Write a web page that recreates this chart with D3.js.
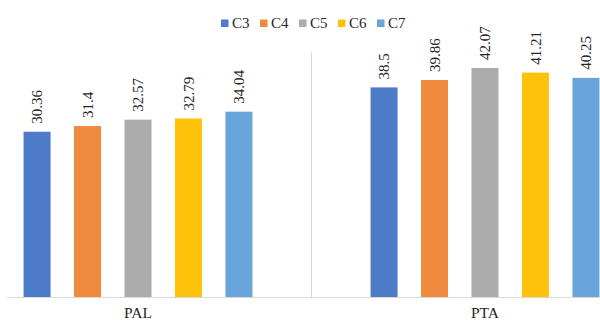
<!DOCTYPE html>
<html>
<head>
<meta charset="utf-8">
<script src="https://cdn.jsdelivr.net/npm/d3@7"></script>
<style>
  html, body { margin: 0; padding: 0; background: #fff; }
  svg { display: block; }
</style>
</head>
<body>
<svg id="chart" width="600" height="322"></svg>
<script>
// Groups along the x axis and the five series within each group
const categories = ["PAL", "PTA"];
const seriesNames = ["C3", "C4", "C5", "C6", "C7"];
const seriesColors = ["#4e7bc8", "#ef8a3e", "#acacac", "#ffc20a", "#68a4da"];
const palValues = [30.36, 31.4, 32.57, 32.79, 34.04];
const ptaValues = [38.5, 39.86, 42.07, 41.21, 40.25];

const valuesByCategory = { PAL: palValues, PTA: ptaValues };
const rows = [];
categories.forEach(c => {
  valuesByCategory[c].forEach((v, i) => rows.push({ category: c, series: seriesNames[i], value: v }));
});

const FONT = "'Liberation Serif', 'Times New Roman', Times, serif";
const svg = d3.select("#chart")
  .attr("font-family", FONT)
  .style("font-family", FONT);
const baseY = 297, topY = 52;

const x0 = d3.scaleBand().domain(categories).range([-35.5, 658.5]).paddingInner(0).paddingOuter(0);
const x1 = d3.scaleBand().domain(seriesNames).range([0, x0.bandwidth()])
  .paddingInner(0.465).paddingOuter(1.17);
const y = d3.scaleLinear().domain([0, 45]).range([baseY, topY]);
const color = d3.scaleOrdinal().domain(seriesNames).range(seriesColors);

// Category separator and baseline
svg.append("line")
  .attr("x1", x0("PTA")).attr("x2", x0("PTA"))
  .attr("y1", y(45)).attr("y2", y(0))
  .attr("stroke", "#d9d9d9").attr("stroke-width", 1);
svg.append("line")
  .attr("x1", 7).attr("x2", 600)
  .attr("y1", y(0) + 0.5).attr("y2", y(0) + 0.5)
  .attr("stroke", "#d9d9d9").attr("stroke-width", 1);

// Bars
svg.append("g").selectAll("rect").data(rows).join("rect")
  .attr("x", d => x0(d.category) + x1(d.series))
  .attr("y", d => y(d.value))
  .attr("width", x1.bandwidth())
  .attr("height", d => y(0) - y(d.value))
  .attr("fill", d => color(d.series));

// Rotated value labels
svg.append("g").selectAll("text").data(rows).join("text")
  .attr("transform", d => {
    const cx = x0(d.category) + x1(d.series) + x1.bandwidth() / 2;
    return `translate(${cx},${y(d.value) - 8}) rotate(-90)`;
  })
  .attr("dy", "0.34em")
  .attr("text-anchor", "start")
  .attr("fill", "#262626")
  .style("font-size", "15px")
  .style("font-family", FONT)
  .text(d => d.value);

// Category labels
svg.append("g").selectAll("text").data(categories).join("text")
  .attr("x", d => x0(d) + x0.bandwidth() / 2)
  .attr("y", 318)
  .attr("text-anchor", "middle")
  .attr("fill", "#262626")
  .style("font-size", "15.5px")
  .style("font-family", FONT)
  .text(d => d);

// Legend
const legend = svg.append("g").attr("transform", "translate(221,19.5)");
const item = legend.selectAll("g").data(seriesNames).join("g")
  .attr("transform", (d, i) => `translate(${i * 39},0)`);
item.append("rect").attr("width", 7.5).attr("height", 7.5).attr("fill", d => color(d));
item.append("text").attr("x", 11).attr("y", 8)
  .attr("fill", "#262626")
  .style("font-size", "15px")
  .style("font-family", FONT)
  .text(d => d);
</script>
</body>
</html>
